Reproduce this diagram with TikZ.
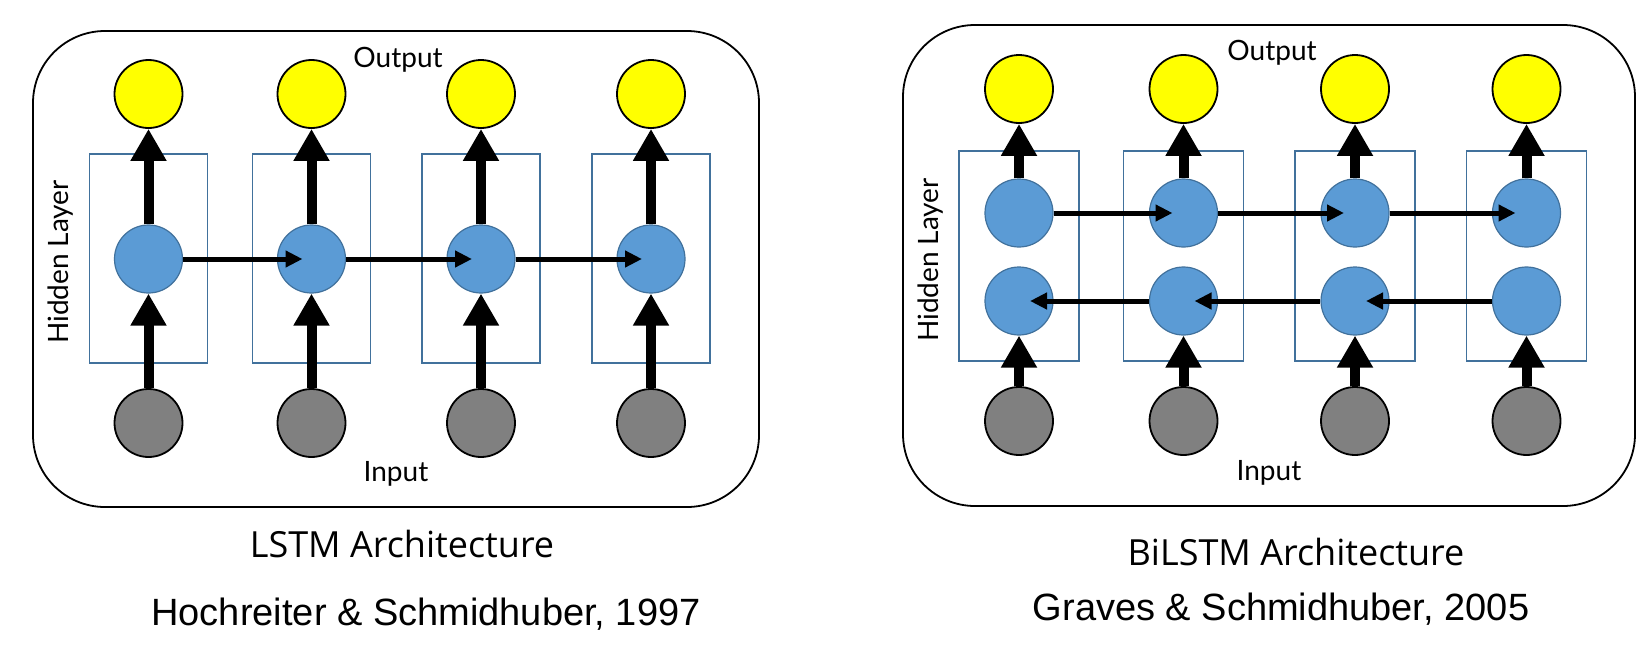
\documentclass[tikz,border=0pt]{standalone}
\usepackage{fontspec}
\setmainfont{Liberation Sans}
\newfontfamily\labelfont{Lato}
\newfontfamily\capfont{Open Sans}
\usetikzlibrary{arrows.meta}
\definecolor{outyellow}{HTML}{FFFF00}
\definecolor{hidblue}{HTML}{5B9BD5}
\definecolor{hidedge}{HTML}{41719C}
\definecolor{ingray}{HTML}{808080}

\begin{document}
\begin{tikzpicture}[x=1pt,y=-1pt,
  outnode/.style={circle,draw=black,line width=1.8pt,fill=outyellow,minimum size=68pt,inner sep=0pt},
  hidnode/.style={circle,draw=hidedge,line width=1.2pt,fill=hidblue,minimum size=68pt,inner sep=0pt},
  innode/.style={circle,draw=black,line width=1.8pt,fill=ingray,minimum size=68pt,inner sep=0pt},
  cellbox/.style={draw=hidedge,line width=1.2pt},
  uparr/.style={line width=10pt,-{Triangle[length=32pt,width=34pt]}},
  sidearr/.style={line width=5pt,-{Triangle[length=17pt,width=16pt]}},
  panel/.style={draw=black,line width=1.8pt,rounded corners=72pt},
  lbl/.style={font=\labelfont\fontsize{28}{30}\selectfont,inner sep=0pt},
  capt/.style={font=\capfont\fontsize{36}{40}\selectfont,inner sep=0pt},
  cite/.style={font=\fontsize{38}{42}\selectfont,inner sep=0pt}]
  \useasboundingbox (0,0) rectangle (1649,648);
  % LSTM
  \draw[panel] (33,31) rectangle (759,507);
  \foreach \c/\x in {1/148.5,2/311.5,3/481,4/651} {
    \draw[cellbox] (\x-59,154) rectangle (\x+59,363);
    \node[outnode] (o\c) at (\x,94) {};
    \node[hidnode] (h\c) at (\x,259) {};
    \node[innode] (i\c) at (\x,423) {};
    \draw[uparr] (i\c) -- (h\c);
    \draw[uparr] (h\c) -- (o\c);
  }
  \foreach \a/\b in {1/2,2/3,3/4} \draw[sidearr] (h\a.east) -- ([xshift=-9pt]h\b.center);
  \node[lbl] (lout) at (398,60) {Output};
  \node[lbl] (lin) at (396,474) {Input};
  \node[lbl,rotate=90] (lhid) at (61,262) {Hidden Layer};
  \node[capt] (lcap) at (402,544) {LSTM Architecture};
  \node[cite] (lref) at (426,614) {Hochreiter \& Schmidhuber, 1997};
  % BiLSTM
  \draw[panel] (903,25) rectangle (1635,506);
  \foreach \c/\x in {1/1019,2/1183.5,3/1355,4/1526.5} {
    \draw[cellbox] (\x-60,151) rectangle (\x+60,361);
    \node[outnode] (bo\c) at (\x,89) {};
    \node[hidnode] (bf\c) at (\x,213) {};
    \node[hidnode] (bb\c) at (\x,301) {};
    \node[innode] (bi\c) at (\x,421) {};
    \draw[uparr] (bi\c) -- (bb\c);
    \draw[uparr] (bf\c) -- (bo\c);
  }
  \foreach \a/\b in {1/2,2/3,3/4} \draw[sidearr] (bf\a.east) -- ([xshift=-11pt]bf\b.center);
  \foreach \a/\b in {4/3,3/2,2/1} \draw[sidearr] (bb\a.west) -- ([xshift=11pt]bb\b.center);
  \node[lbl] (rout) at (1272,53) {Output};
  \node[lbl] (rin) at (1269,473) {Input};
  \node[lbl,rotate=90] (rhid) at (931,260) {Hidden Layer};
  \node[capt] (rcap) at (1296,552) {BiLSTM Architecture};
  \node[cite] (rref) at (1281,609) {Graves \& Schmidhuber, 2005};
\end{tikzpicture}
\end{document}
